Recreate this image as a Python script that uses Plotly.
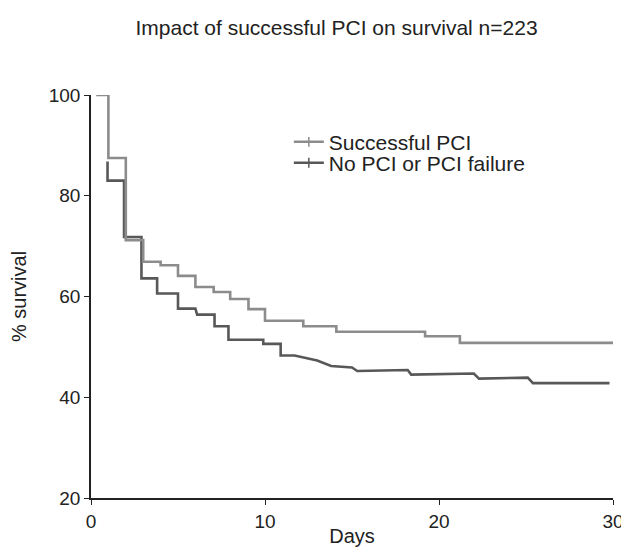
import plotly.graph_objects as go

# Successful PCI (step function, hv)
succ_days = [0.3, 1.0, 2.0, 3.0, 4.0, 5.0, 6.0, 7.05, 8.0, 9.05, 10.0, 12.2, 14.1, 19.2, 21.2, 30.0]
succ_surv = [100, 87.5, 71.2, 66.9, 66.2, 64.1, 61.9, 60.9, 59.5, 57.5, 55.2, 54.1, 53.0, 52.1, 50.8, 50.8]

# No PCI or PCI failure (polyline vertices as digitized)
fail_days = [0.95, 0.95, 1.9, 1.9, 2.9, 2.9, 3.8, 3.8, 5.0, 5.0, 6.0, 6.1, 7.1, 7.1, 7.9, 7.9,
             9.9, 9.9, 10.9, 10.9, 11.7, 13.0, 13.8, 15.0, 15.3, 18.2, 18.4, 22.0, 22.3, 25.1, 25.4, 29.8]
fail_surv = [86.8, 83.0, 83.0, 71.8, 71.8, 63.6, 63.6, 60.6, 60.6, 57.6, 57.6, 56.4, 56.4, 54.1, 54.1, 51.4,
             51.4, 50.6, 50.6, 48.3, 48.3, 47.3, 46.2, 45.9, 45.2, 45.4, 44.5, 44.7, 43.7, 43.9, 42.8, 42.8]

x_ticks = [0, 10, 20, 30]
y_ticks = [20, 40, 60, 80, 100]

FONT = "Liberation Sans"
LIGHT = "#8c8c8c"
DARK = "#585858"

fig = go.Figure()
fig.add_trace(go.Scatter(x=fail_days, y=fail_surv, mode="lines", showlegend=False,
                         line=dict(color=DARK, width=2.6, shape="linear")))
fig.add_trace(go.Scatter(x=succ_days, y=succ_surv, mode="lines", showlegend=False,
                         line=dict(color=LIGHT, width=2.6, shape="hv")))
# legend-only entries with censor tick
fig.add_trace(go.Scatter(x=[None], y=[None], mode="lines+markers", name="Successful PCI",
                         legend="legend",
                         line=dict(color=LIGHT, width=2.6),
                         marker=dict(symbol="line-ns-open", size=7, color=LIGHT, line=dict(width=1.5, color=LIGHT))))
fig.add_trace(go.Scatter(x=[None], y=[None], mode="lines+markers", name="No PCI or PCI failure",
                         legend="legend2",
                         line=dict(color=DARK, width=2.6),
                         marker=dict(symbol="line-ns-open", size=7, color=DARK, line=dict(width=1.5, color=DARK))))

legend_style = dict(xanchor="left", yanchor="middle", bgcolor="rgba(0,0,0,0)", font=dict(size=21))

# page body has an 8px margin: figure is 621x539 placed at (8, 8)
fig.update_layout(
    width=621, height=539,
    margin=dict(l=83, r=16, t=87, b=49),
    paper_bgcolor="white", plot_bgcolor="white",
    font=dict(family=FONT, size=19, color="#222222"),
    title=dict(text="Impact of successful PCI on survival n=223", x=0.529, xanchor="center",
               y=0.963, yanchor="middle", font=dict(size=21, color="#222222")),
    showlegend=True,
    legend=dict(x=0.379, y=0.883, **legend_style),
    legend2=dict(x=0.379, y=0.831, **legend_style),
    xaxis=dict(range=[0, 30], tickvals=x_ticks, showline=True, linecolor="#222222", linewidth=1.5,
               ticks="outside", ticklen=5, tickcolor="#222222", showgrid=False, zeroline=False,
               automargin=False, title=dict(text="Days", standoff=0, font=dict(size=20))),
    yaxis=dict(range=[20, 100], tickvals=y_ticks, showline=True, linecolor="#222222", linewidth=1.5,
               ticks="outside", ticklen=5, tickcolor="#222222", showgrid=False, zeroline=False,
               automargin=False, title=dict(text="% survival", standoff=17, font=dict(size=20))),
)

fig.write_html("out.html")
